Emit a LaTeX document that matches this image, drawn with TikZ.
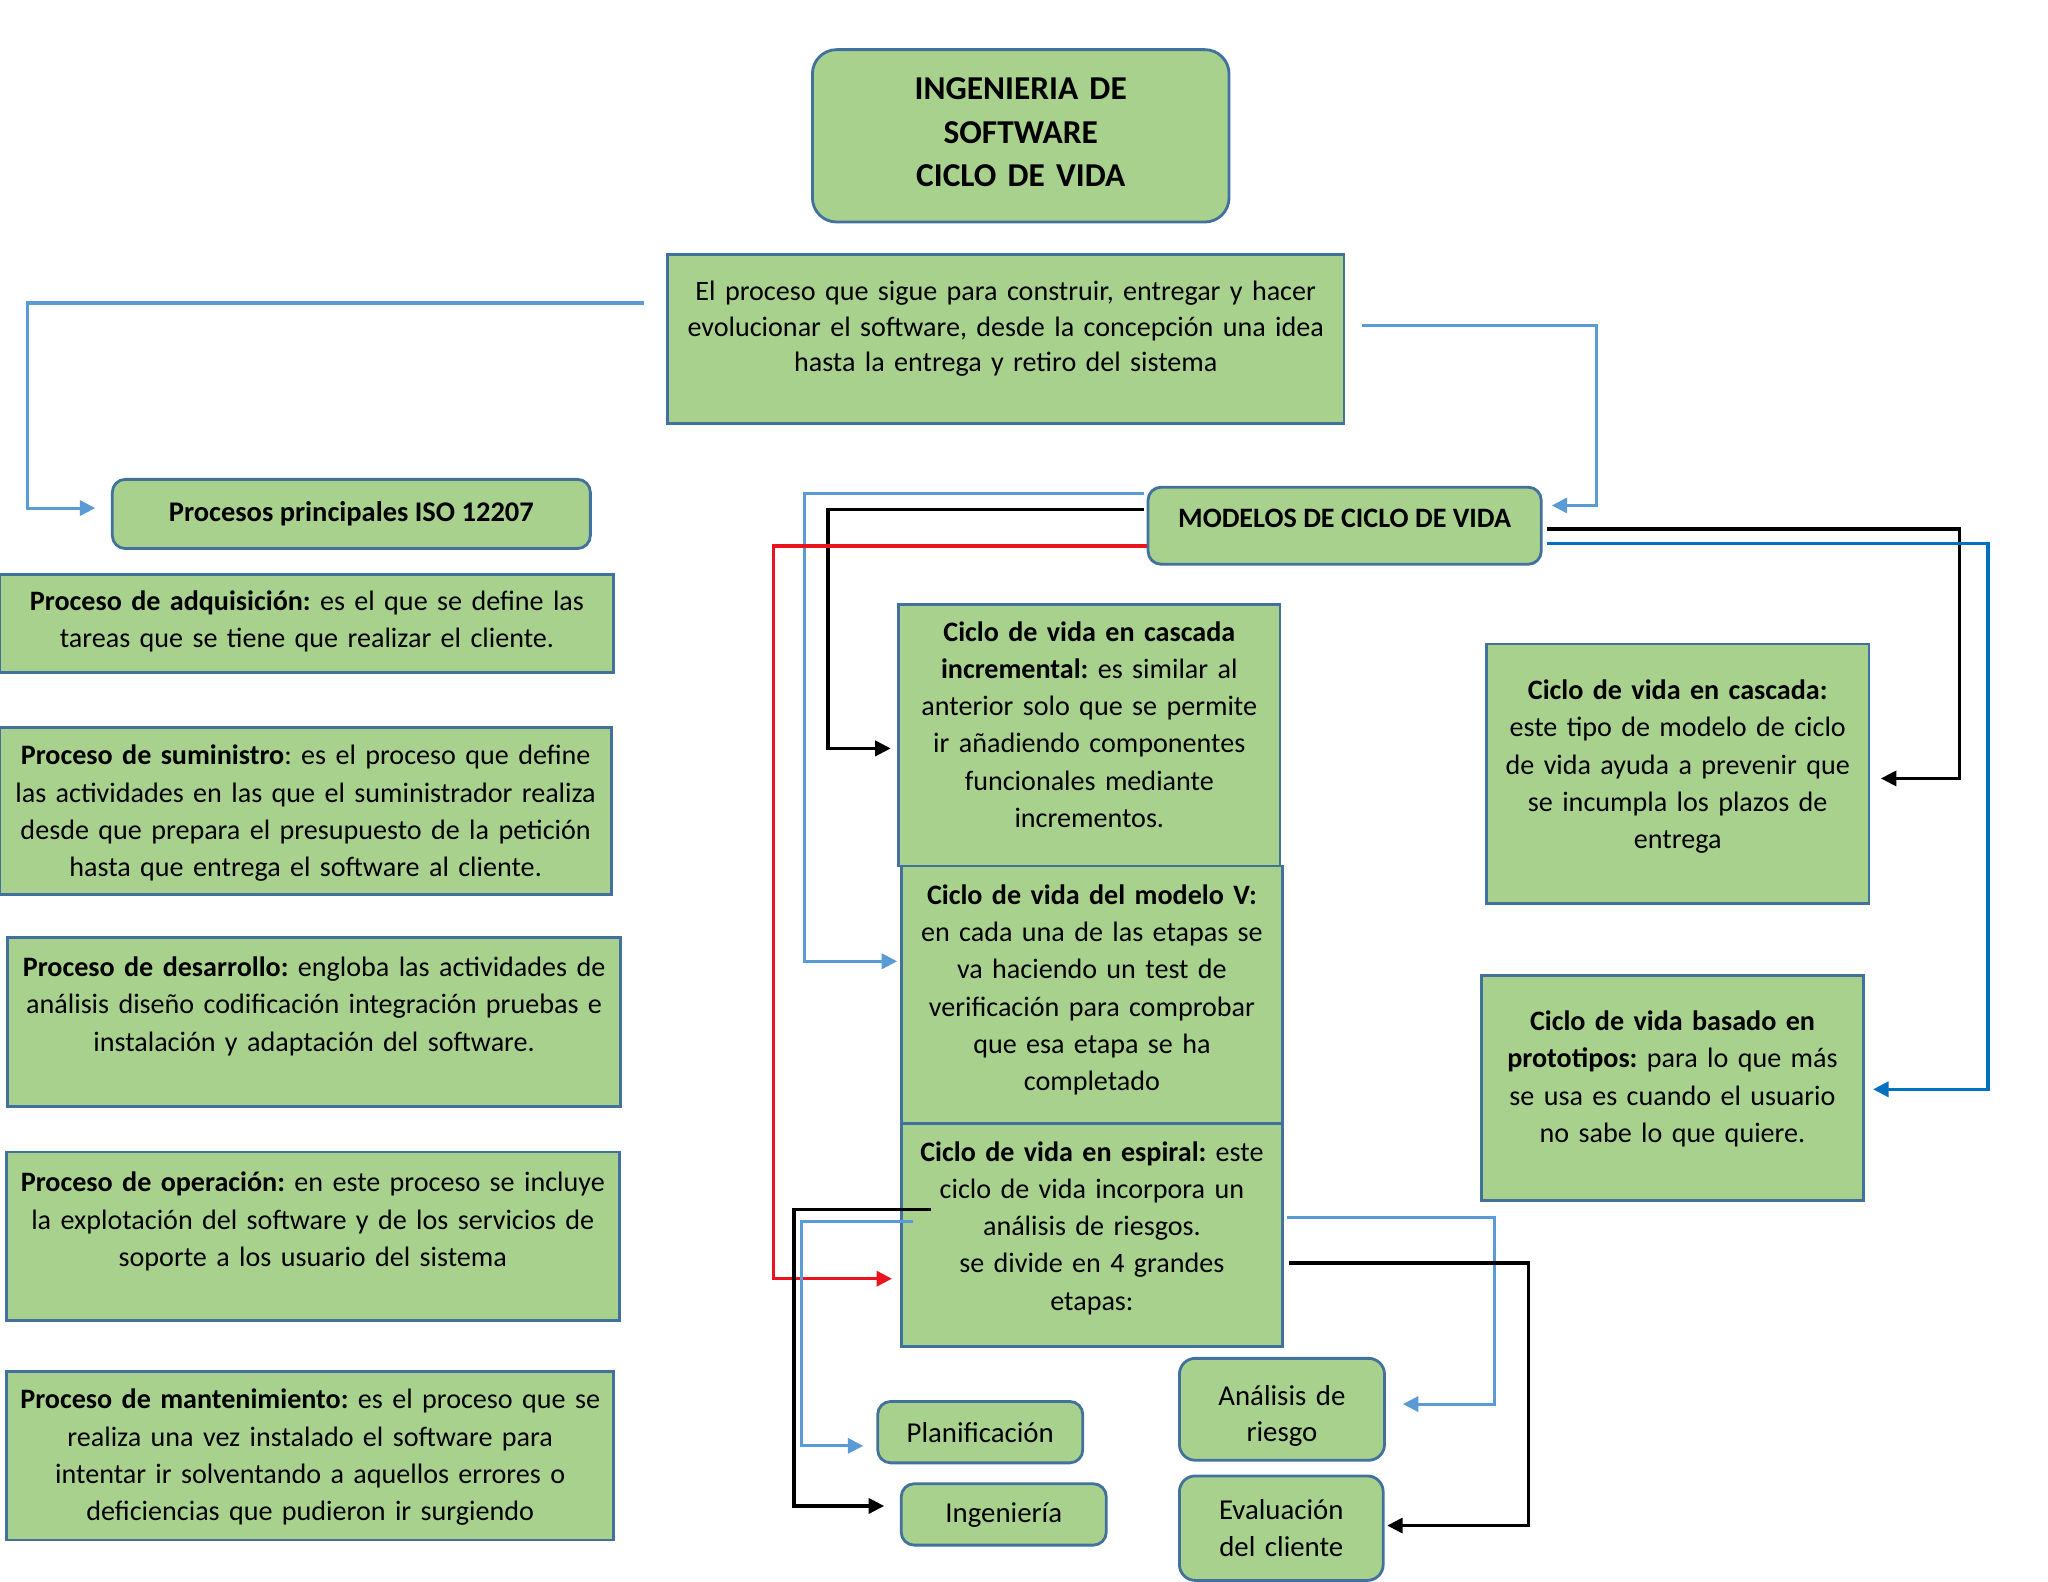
\documentclass[tikz,border=0pt]{standalone}
\usepackage{fontspec}
\setmainfont{Carlito}
\frenchspacing
\usetikzlibrary{arrows.meta}
\definecolor{boxfill}{RGB}{169,209,142}
\definecolor{boxline}{RGB}{65,113,156}
\definecolor{lblue}{RGB}{91,155,213}
\definecolor{dblue}{RGB}{0,112,192}
\definecolor{lred}{RGB}{235,20,30}
% one pixel of the sheet
\newcommand{\pxu}{0.0130612cm}
\tikzset{
  card/.style={draw=boxline, fill=boxfill, line width=0.8pt, align=center, inner sep=0pt,
    font=\fontsize{8}{10.6}\selectfont},
  roundcard/.style={card, rounded corners=3.7pt},
  stage/.style={roundcard, font=\fontsize{8.2}{10.5}\selectfont},
  lift/.style={text height=0pt, text depth=#1},
  conn/.style={line width=0.9pt, -{Triangle[length=4.4pt,width=4.3pt]}}
}
\begin{document}
\begin{tikzpicture}[x=\pxu, y=-\pxu]
\path[use as bounding box, fill=white] (0,0) rectangle (1568,1211);
% Title and definition
\node[card, rounded corners=6.9pt, minimum width=319*\pxu, minimum height=132*\pxu, text width=300*\pxu,
  lift=20.5pt, font=\bfseries\fontsize{9.5}{12.3}\selectfont] (title) at (781.5,104)
  {INGENIERIA DE\\SOFTWARE\\CICLO DE VIDA};
\node[card, minimum width=518*\pxu, minimum height=129*\pxu, text width=508*\pxu, lift=22pt,
  font=\fontsize{8}{10.2}\selectfont] (defn) at (770,259.5)
  {El proceso que sigue para construir, entregar y hacer\\evolucionar el software, desde la concepción una idea\\hasta la entrega y retiro del sistema};
% Left column: ISO 12207
\node[roundcard, minimum width=366*\pxu, minimum height=53*\pxu, font=\bfseries\fontsize{8.1}{10.6}\selectfont]
  (proc) at (269,393.5) {Procesos principales ISO 12207};
\node[card, minimum width=470*\pxu, minimum height=75*\pxu, text width=464*\pxu, lift=7.6pt] (adq) at (235,477.5)
  {\textbf{Proceso de adquisición:} es el que se define las\\tareas que se tiene que realizar el cliente.};
\node[card, minimum width=468*\pxu, minimum height=128*\pxu, text width=462*\pxu, lift=26.3pt] (sum) at (234,621)
  {\textbf{Proceso de suministro}: es el proceso que define\\las actividades en las que el suministrador realiza\\desde que prepara el presupuesto de la petición\\hasta que entrega el software al cliente.};
\node[card, minimum width=469*\pxu, minimum height=129*\pxu, text width=463*\pxu, lift=25.9pt] (des) at (240.5,782.5)
  {\textbf{Proceso de desarrollo:} engloba las actividades de\\análisis diseño codificación integración pruebas e\\instalación y adaptación del software.};
\node[card, minimum width=469*\pxu, minimum height=129*\pxu, text width=463*\pxu, lift=25.2pt] (ope) at (239.5,946.5)
  {\textbf{Proceso de operación:} en este proceso se incluye\\la explotación del software y de los servicios de\\soporte a los usuario del sistema};
\node[card, minimum width=465*\pxu, minimum height=129*\pxu, text width=459*\pxu, lift=26.6pt] (man) at (237.5,1114.5)
  {\textbf{Proceso de mantenimiento:} es el proceso que se\\realiza una vez instalado el software para\\intentar ir solventando a aquellos errores o\\deficiencias que pudieron ir surgiendo};
% Models
\node[roundcard, minimum width=301*\pxu, minimum height=59*\pxu, text height=1.1pt, text depth=0pt,
  font=\bfseries\fontsize{8}{10.6}\selectfont] (modelos) at (1029.5,402.5) {MODELOS DE CICLO DE VIDA};
\node[card, minimum width=292*\pxu, minimum height=200*\pxu, text width=286*\pxu, lift=53.6pt] (cinc) at (834,563)
  {\textbf{Ciclo de vida en cascada}\\\textbf{incremental:} es similar al\\anterior solo que se permite\\ir añadiendo componentes\\funcionales mediante\\incrementos.};
\node[card, minimum width=292*\pxu, minimum height=197*\pxu, text width=286*\pxu, lift=51.3pt] (cv) at (836,761.5)
  {\textbf{Ciclo de vida del modelo V:}\\en cada una de las etapas se\\va haciendo un test de\\verificación para comprobar\\que esa etapa se ha\\completado};
\node[card, minimum width=292*\pxu, minimum height=171*\pxu, text width=286*\pxu, lift=42pt] (esp) at (836,945.5)
  {\textbf{Ciclo de vida en espiral:} este\\ciclo de vida incorpora un\\análisis de riesgos.\\se divide en 4 grandes\\etapas:};
\node[card, minimum width=293*\pxu, minimum height=199*\pxu, text width=287*\pxu, lift=42.2pt] (cas) at (1284.5,592.5)
  {\textbf{Ciclo de vida en cascada:}\\este tipo de modelo de ciclo\\de vida ayuda a prevenir que\\se incumpla los plazos de\\entrega};
\node[card, minimum width=293*\pxu, minimum height=172*\pxu, text width=287*\pxu, lift=32.7pt] (pro) at (1280.5,833)
  {\textbf{Ciclo de vida basado en}\\\textbf{prototipos:} para lo que más\\se usa es cuando el usuario\\no sabe lo que quiere.};
% Spiral stages
\node[stage, minimum width=157*\pxu, minimum height=47*\pxu] (plan) at (750.5,1096.5) {Planificación};
\node[stage, minimum width=157*\pxu, minimum height=47*\pxu, text height=4.6pt, text depth=0pt]
  (ing) at (768.5,1159.5) {Ingeniería};
\node[stage, rounded corners=4.5pt, minimum width=157*\pxu, minimum height=78*\pxu, text width=152*\pxu,
  lift=2.4pt] (ana) at (981.5,1079) {Análisis de\\riesgo};
\node[stage, rounded corners=4.5pt, minimum width=156*\pxu, minimum height=80*\pxu, text width=152*\pxu,
  lift=5pt] (eva) at (981,1170) {Evaluación\\del cliente};
% Connectors
\draw[conn, lblue] ([shift={(-17,-27.5)}]defn.west) -- ++(-472,0) |- ([shift={(-12,-4.5)}]proc.west);
\draw[conn, lblue] ([shift={(13,-10.5)}]defn.east) -- ++(179,0) |- ([shift={(7,-15.5)}]modelos.east);
\draw[conn, lblue] ([shift={(-2,-24.5)}]modelos.west) -- ++(-260,0) |- ([shift={(-2,-25.5)}]cv.west);
\draw[conn, black] ([shift={(-2,-12.5)}]modelos.west) -- ++(-242,0) |- ([shift={(-5,10)}]cinc.west);
\draw[conn, lred] ([shift={(0,15.5)}]modelos.west) -- ++(-286,0) |- ([shift={(-6,33.5)}]esp.west);
\draw[conn, black] ([shift={(3,2.5)}]modelos.east) -- ++(316,0) |- ([shift={(8,3.5)}]cas.east);
\draw[conn, dblue] ([shift={(3,13.5)}]modelos.east) -- ++(338,0) |- ([shift={(6,1)}]pro.east);
\draw[conn, black] ([shift={(24,-19.5)}]esp.west) -- ++(-105,0) |- ([shift={(-12,-6.5)}]ing.west);
\draw[conn, lblue] ([shift={(10,-10.5)}]esp.west) -- ++(-85,0) |- ([shift={(-10,10.5)}]plan.west);
\draw[conn, lblue] ([shift={(2,-13.5)}]esp.east) -- ++(159,0) |- ([shift={(13,-4)}]ana.east);
\draw[conn, black] ([shift={(4,21.5)}]esp.east) -- ++(183,0) |- ([shift={(2,-2)}]eva.east);
\end{tikzpicture}
\end{document}
